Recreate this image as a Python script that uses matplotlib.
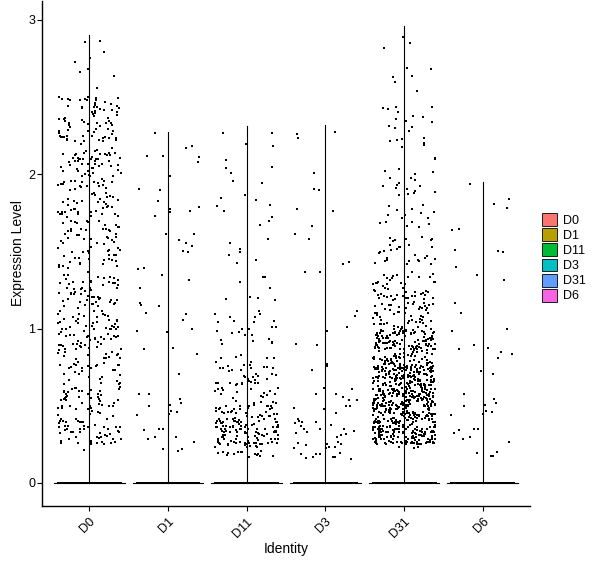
import numpy as np
import matplotlib
matplotlib.use('Agg')
import matplotlib.pyplot as plt
import matplotlib.transforms as mtransforms
from matplotlib.patches import Patch

plt.rcParams['font.family'] = ['Liberation Sans', 'DejaVu Sans']

# groups and colours (ggplot hue palette)
groups = ['D0', 'D1', 'D11', 'D3', 'D31', 'D6']
colors = ['#F8766D', '#B79F00', '#00BA38', '#00BFC4', '#619CFF', '#F564E3']

# number of cells per expression bin of width 0.25 (0 -> 3)
bin_edges = [0, 0.25, 0.5, 0.75, 1.0, 1.25, 1.5, 1.75, 2.0, 2.25, 2.5, 2.75, 3.0]
counts_D0 = [1, 68, 55, 68, 60, 50, 50, 56, 66, 58, 6, 3]
counts_D1 = [3, 12, 6, 6, 6, 6, 7, 8, 6, 1, 0, 0]
counts_D11 = [22, 135, 50, 24, 15, 8, 6, 8, 6, 2, 0, 0]
counts_D3 = [15, 25, 8, 5, 3, 4, 3, 4, 2, 2, 0, 0]
counts_D31 = [3, 260, 280, 180, 80, 42, 26, 20, 12, 14, 6, 3]
counts_D6 = [4, 12, 6, 8, 2, 4, 4, 4, 0, 0, 0, 0]
counts = [counts_D0, counts_D1, counts_D11, counts_D3, counts_D31, counts_D6]

# lowest and highest non-zero expression per group
min_expr = [0.19, 0.2, 0.17, 0.15, 0.22, 0.16]
max_expr = [2.9, 2.27, 2.31, 2.32, 2.96, 1.95]
# cells with zero expression
zero_cells = [1500, 1200, 1400, 1300, 2000, 1100]

# deterministic spread (quadratic Weyl sequences) used in place of random jitter
r2, r3, phi = np.sqrt(2), np.sqrt(3), (np.sqrt(5) - 1) / 2

fig = plt.figure(figsize=(6, 5.68), dpi=100)
ax = fig.add_axes([42 / 600, 62 / 568, 488 / 600, 505 / 568])

jitter = 0.4
for i, grp in enumerate(groups):
    center = i + 1
    xs, ys = [], []
    k = 1
    for b in range(len(counts[i])):
        lo = max(bin_edges[b], min_expr[i])
        hi = min(bin_edges[b + 1], max_expr[i])
        for j in range(counts[i][b]):
            u = (k * k * r2) % 1.0
            v = (k * k * r3 + k * phi) % 1.0
            xs.append(center + jitter * (2 * u - 1))
            ys.append(lo + v * (hi - lo))
            k += 1
    for j in range(zero_cells[i]):
        u = (k * k * r2) % 1.0
        xs.append(center + jitter * (2 * u - 1))
        ys.append(0.0)
        k += 1

    # violin: collapsed to a line at zero plus a thin stem up to the maximum
    ax.plot([center, center], [0, max_expr[i]], color='black', lw=0.8, zorder=1)
    ax.plot([center - 0.45, center + 0.45], [0, 0], color='black', lw=0.8, zorder=1)

    ax.scatter(xs, ys, s=2.4, marker='s', color='black', linewidths=0, zorder=2)

ax.set_xlim(0.4, 6.6)
ax.set_ylim(-0.149, 3.12)
ax.set_xticks(range(1, len(groups) + 1))
ax.set_xticklabels(groups, rotation=45, ha='right', rotation_mode='anchor')
shift = mtransforms.ScaledTranslation(4 / 100, 0, fig.dpi_scale_trans)
for lab in ax.get_xticklabels():
    lab.set_transform(lab.get_transform() + shift)
ax.set_yticks([0, 1, 2, 3])
ax.tick_params(labelsize=9, colors='black', length=3.5, width=0.8)
ax.tick_params(axis='y', pad=1.5)
for s in ['top', 'right']:
    ax.spines[s].set_visible(False)
for s in ['left', 'bottom']:
    ax.spines[s].set_linewidth(1.0)
ax.set_xlabel('Identity', fontsize=10, labelpad=1.5)
ax.set_ylabel('Expression Level', fontsize=10, labelpad=2)

handles = [Patch(facecolor=c, edgecolor='black', linewidth=0.6, label=grp)
           for grp, c in zip(groups, colors)]
fig.legend(handles=handles, loc='center left', bbox_to_anchor=(533 / 600, 0.546),
           frameon=False, fontsize=9, handlelength=1.2, handleheight=1.2,
           handletextpad=0.5, labelspacing=0.12, borderpad=0.2)

fig.savefig('out.png', dpi=100)
